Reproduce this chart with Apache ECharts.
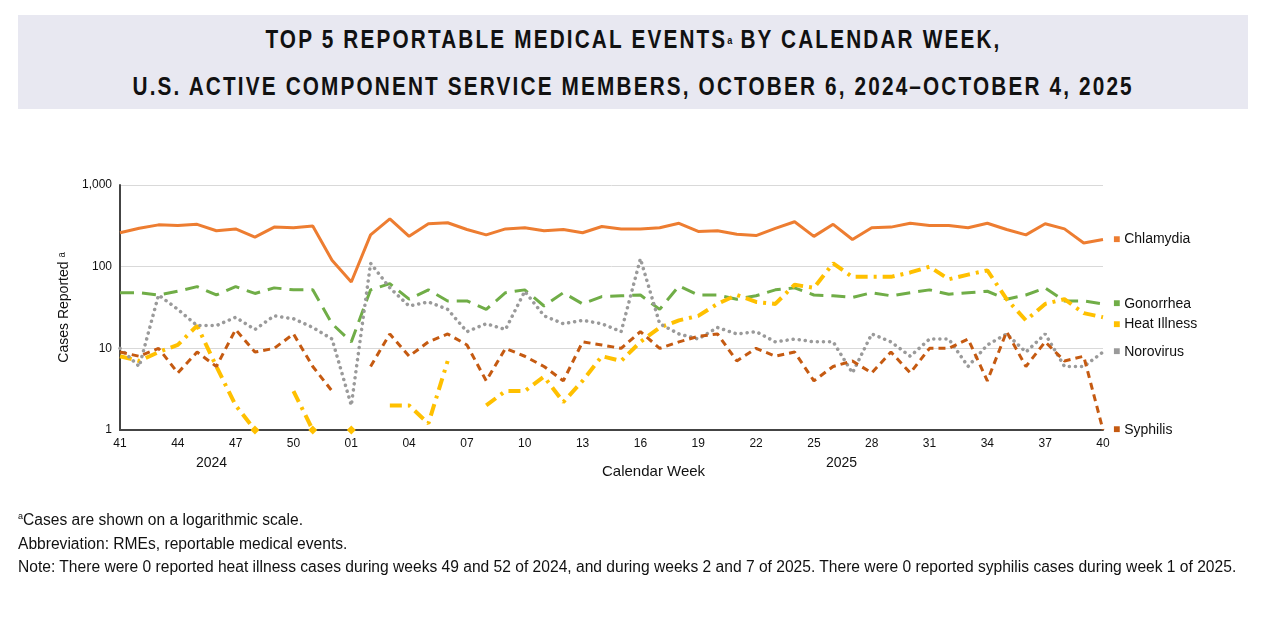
<!DOCTYPE html>
<html><head><meta charset="utf-8">
<script src="https://cdn.jsdelivr.net/npm/echarts@6/dist/echarts.min.js"></script>
<style>
body{margin:0;width:1280px;height:617px;background:#fff;position:relative;overflow:hidden;font-family:"Liberation Sans",Arial,sans-serif}
#title{position:absolute;left:18px;top:15px;width:1230px;height:93px;background:#E8E8F1;text-align:center;font-family:"Liberation Sans",sans-serif;font-weight:bold;font-size:25px;letter-spacing:2.6px;line-height:46px;padding-top:1px;color:#111}
#title span{display:inline-block;transform:scaleX(0.83);transform-origin:center;white-space:nowrap}
#title sup{font-size:11px;letter-spacing:0;vertical-align:4px}
#chart{position:absolute;left:0;top:0;width:1280px;height:617px}
.fn{position:absolute;left:18px;font-size:15.6px;color:#111}
.fn sup{font-size:9px}
</style></head><body>
<div id="title"><span>TOP 5 REPORTABLE MEDICAL EVENTS<sup>a</sup> BY CALENDAR WEEK,</span><br><span>U.S. ACTIVE COMPONENT SERVICE MEMBERS, OCTOBER 6, 2024–OCTOBER 4, 2025</span></div>
<div id="chart"></div>
<div class="fn" style="top:511px"><sup>a</sup>Cases are shown on a logarithmic scale.</div>
<div class="fn" style="top:535px">Abbreviation: RMEs, reportable medical events.</div>
<div class="fn" style="top:558px">Note: There were 0 reported heat illness cases during weeks 49 and 52 of 2024, and during weeks 2 and 7 of 2025. There were 0 reported syphilis cases during week 1 of 2025.</div>
<script>
const weeks = ['41','42','43','44','45','46','47','48','49','50','51','52','01','02','03','04','05','06','07','08','09','10','11','12','13','14','15','16','17','18','19','20','21','22','23','24','25','26','27','28','29','30','31','32','33','34','35','36','37','38','39','40'];
const chlamydia = [260,295,325,320,330,275,290,230,305,300,315,120,65,245,385,235,335,345,285,245,290,300,275,285,260,310,290,290,300,340,270,275,250,240,295,355,235,330,215,300,305,340,320,320,300,340,285,245,335,290,195,215];
const gonorrhea = [48,48,45,50,57,45,57,47,55,52,52,20,12,52,62,40,52,38,38,30,48,52,33,48,35,43,44,45,30,58,45,45,40,44,52,55,45,44,42,48,44,48,52,46,48,50,40,45,55,38,38,35];
const heatIllness = [8,7,9,11,19,6,2,1,null,3,1,null,1,null,2,2,1.2,7,null,2,3,3,4.5,2.2,4,8,7,12,18,22,25,35,45,37,35,60,55,110,75,75,75,85,100,70,80,90,40,22,35,40,27,24];
const norovirus = [10,6,45,30,19,19,24,17,25,23,18,13,2,110,55,33,37,30,16,20,17,50,25,20,22,20,16,125,20,15,13,18,15,16,12,13,12,12,5,15,12,8,13,13,6,11,15,9,15,6,6,9];
const syphilis = [9,8,10,5,9,6,17,9,10,15,6,3,null,6,15,8,12,15,11,4,10,8,6,4,12,11,10,16,10,12,14,15,7,10,8,9,4,6,7,5,9,5,10,10,13,4,16,6,12,7,8,1];
const yTicks = ['1','10','100','1,000'];

const chart = echarts.init(document.getElementById('chart'));
function ser(name, data, color, type, width, offset, marker, cap){
  return {
    name, type:'line', data: data.map((v,i)=>{
      if (marker && v===1) return {value:v, symbol:'diamond', symbolSize:9};
      return v;
    }),
    symbol:'none', connectNulls:false, itemStyle:{color},
    lineStyle:{color, width, type, cap: cap||'butt'},
    endLabel:{show:true, offset:offset, formatter:'{s|■} '+name, color:'#111', fontSize:14, fontFamily:'Liberation Sans',
      rich:{s:{color, fontSize:12}}},
    z: 2, animation:false
  };
}
chart.setOption({
  animation:false,
  grid:{left:120,right:177,top:185,bottom:187},
  xAxis:{type:'category',data:weeks,boundaryGap:false,
    axisLine:{lineStyle:{color:'#444',width:2}},axisTick:{show:false},
    axisLabel:{interval:2,color:'#111',fontSize:12,fontFamily:'Liberation Sans'}},
  yAxis:{type:'log',min:1,max:1000,logBase:10,
    axisLine:{show:true,lineStyle:{color:'#444',width:2}},
    axisLabel:{color:'#111',fontSize:12,fontFamily:'Liberation Sans',formatter:v=>yTicks[Math.round(Math.log10(v))]},
    splitLine:{lineStyle:{color:'#d9d9d9'}},
    name:'Cases Reported ᵃ',nameLocation:'middle',nameGap:48,nameTextStyle:{color:'#111',fontSize:14,fontFamily:'Liberation Sans'}},
  graphic:[
    {type:'text',left:196,top:456,style:{text:'2024',fontSize:14,fill:'#111',fontFamily:'Liberation Sans'}},
    {type:'text',left:826,top:456,style:{text:'2025',fontSize:14,fill:'#111',fontFamily:'Liberation Sans'}},
    {type:'text',left:602,top:464,style:{text:'Calendar Week',fontSize:15,fill:'#111',fontFamily:'Liberation Sans'}}
  ],
  series:[
    ser('Chlamydia',chlamydia,'#ED7D31','solid',3,[2,0]),
    ser('Gonorrhea',gonorrhea,'#70AD47',[14,8],3,[2,0]),
    ser('Heat Illness',heatIllness,'#FFC000',[12,6,3,6],4,[2,7],true),
    ser('Norovirus',norovirus,'#9A9A9A',[0.1,6],3.5,[2,0],false,'round'),
    ser('Syphilis',syphilis,'#C55A11',[7,5],3,[2,0])
  ]
});
</script></body></html>
